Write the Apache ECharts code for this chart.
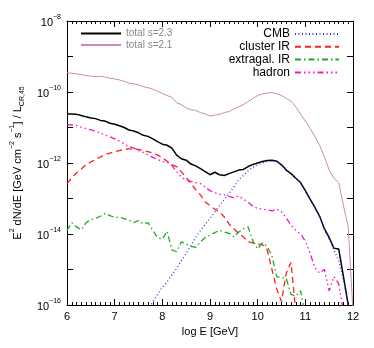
<!DOCTYPE html>
<html>
<head>
<meta charset="utf-8">
<script src="https://cdn.jsdelivr.net/npm/echarts@6/dist/echarts.min.js"></script>
<style>
  html, body { margin: 0; padding: 0; background: #fff; }
  #chart { width: 374px; height: 348px; }
</style>
</head>
<body>
<div id="chart"></div>
<script>
// log E grid (GeV), 0.1 steps
var logE = [6.0, 6.1, 6.2, 6.3, 6.4, 6.5, 6.6, 6.7, 6.8, 6.9,
            7.0, 7.1, 7.2, 7.3, 7.4, 7.5, 7.6, 7.7, 7.8, 7.9,
            8.0, 8.1, 8.2, 8.3, 8.4, 8.5, 8.6, 8.7, 8.8, 8.9,
            9.0, 9.1, 9.2, 9.3, 9.4, 9.5, 9.6, 9.7, 9.8, 9.9,
            10.0, 10.1, 10.2, 10.3, 10.4, 10.5, 10.6, 10.7, 10.8, 10.9,
            11.0, 11.1, 11.2, 11.3, 11.4, 11.5, 11.6, 11.7, 11.8, 11.9,
            12.0];

// log10 of E^2 dN/dE / L_CR,45 (null = not drawn)
var total23 = [-10.62, -10.62, -10.63, -10.66, -10.70, -10.73, -10.75, -10.80, -10.82, -10.88,
               -10.91, -10.95, -11.00, -11.07, -11.10, -11.15, -11.22, -11.25, -11.32, -11.40,
               -11.47, -11.50, -11.58, -11.78, -11.88, -11.92, -12.03, -12.08, -12.16, -12.24,
               -12.33, -12.26, -12.33, -12.35, -12.30, -12.25, -12.20, -12.18, -12.10, -12.04,
               -12.00, -11.96, -11.93, -11.92, -11.95, -12.05, -12.20, -12.30, -12.43, -12.55,
               -12.78, -13.02, -13.25, -13.50, -13.85, -14.10, -14.40, -14.42, -15.20, -16.0,
               null];
var total21 = [-9.46, -9.47, -9.49, -9.51, -9.54, -9.55, -9.57, -9.56, -9.58, -9.61,
               -9.63, -9.66, -9.70, -9.75, -9.77, -9.80, -9.85, -9.88, -9.92, -9.98,
               -10.04, -10.10, -10.15, -10.30, -10.36, -10.45, -10.50, -10.52, -10.58, -10.62,
               -10.68, -10.65, -10.63, -10.58, -10.55, -10.48, -10.41, -10.36, -10.27, -10.18,
               -10.10, -10.05, -10.03, -10.02, -10.05, -10.10, -10.18, -10.26, -10.42, -10.62,
               -10.82, -11.02, -11.25, -11.50, -11.82, -12.20, -12.43, -12.55, -13.20, -13.80,
               -16.2];
var cmb = [null, null, null, null, null, null, null, null, null, null,
           null, null, null, null, null, null, null, -16.15, -15.9, -15.7,
           -15.5, -15.35, -15.15, -14.97, -14.75, -14.55, -14.32, -14.10, -13.90, -13.72,
           -13.56, -13.38, -13.20, -13.03, -12.85, -12.68, -12.48, -12.35, -12.22, -12.12,
           -12.05, -12.00, -11.96, -11.94, -11.96, -12.06, -12.21, -12.31, -12.44, -12.56,
           -12.79, -13.03, -13.26, -13.52, -13.87, -14.15, -14.45, -14.75, -15.30, -16.0,
           null];
var clusterIR = [-12.58, -12.42, -12.28, -12.17, -12.05, -11.97, -11.90, -11.83, -11.76, -11.72,
                 -11.68, -11.65, -11.62, -11.60, -11.60, -11.62, -11.65, -11.68, -11.72, -11.78,
                 -11.85, -11.95, -12.05, -12.10, -12.25, -12.40, -12.58, -12.75, -12.90, -13.10,
                 -13.20, -13.30, -13.38, -13.52, -13.72, -13.85, -13.98, -14.08, -14.22, -14.25,
                 -14.28, -14.30, -14.45, -15.00, -15.55, -15.90, -15.10, -14.80, -16.2, null,
                 null, null, null, null, null, null, null, null, null, null,
                 null];
var extragalIR = [-13.90, -13.68, -13.80, -13.88, -13.68, -13.60, -13.56, -13.50, -13.42, -13.48,
                  -13.53, -13.53, -13.57, -13.61, -13.68, -13.62, -13.72, -13.68, -13.90, -14.10,
                  -14.15, -13.92, -14.45, -14.50, -14.22, -14.28, -14.35, -14.38, -14.22, -14.10,
                  -14.03, -13.96, -13.90, -13.94, -13.98, -14.08, -13.95, -13.85, -13.80, -14.20,
                  -14.42, -14.25, -14.35, -14.62, -15.20, -15.22, -15.25, -15.70, -15.75, -15.60,
                  -16.3, null, null, null, null, null, null, null, null, null,
                  null];
var hadron = [-10.92, -10.93, -10.95, -10.99, -11.03, -11.07, -11.10, -11.15, -11.22, -11.26,
              -11.32, -11.38, -11.46, -11.54, -11.58, -11.65, -11.70, -11.77, -11.84, -11.90,
              -11.96, -11.98, -12.06, -12.25, -12.40, -12.48, -12.52, -12.55, -12.58, -12.68,
              -12.78, -12.84, -12.88, -12.90, -12.94, -12.98, -12.93, -13.02, -13.10, -13.22,
              -13.28, -13.30, -13.32, -13.35, -13.30, -13.37, -13.55, -13.75, -13.90, -14.00,
              -14.20, -14.54, -14.95, -15.10, -15.00, -15.60, -15.20, -15.40, -16.2, null,
              null];

var FONT = '"Liberation Sans", Arial, sans-serif';

function pairs(vals) {
    var out = [];
    for (var i = 0; i < logE.length; i++) {
        out.push([logE[i], vals[i] == null ? null : vals[i]]);
    }
    return out;
}

function lineSeries(name, vals, color, width, dash) {
    return {
        name: name,
        type: 'line',
        data: pairs(vals),
        symbol: 'none',
        showSymbol: false,
        clip: true,
        animation: false,
        lineStyle: { color: color, width: width, type: dash },
        itemStyle: { color: color }
    };
}

var chart = echarts.init(document.getElementById('chart'));

var supRich = {
    b: { fontSize: 11, fontFamily: FONT, color: '#000', lineHeight: 14, verticalAlign: 'bottom' },
    s: { fontSize: 7, fontFamily: FONT, color: '#000', lineHeight: 9, verticalAlign: 'top' }
};

var option = {
    backgroundColor: '#fff',
    textStyle: { fontFamily: FONT },
    grid: { left: 67, right: 21, top: 21, bottom: 43 },
    legend: [{
        data: ['total s=2.3', 'total s=2.1'],
        orient: 'vertical',
        left: 80,
        top: 28,
        padding: 0,
        itemWidth: 40,
        itemHeight: 8,
        itemGap: 0.5,
        itemStyle: { opacity: 0 },
        textStyle: { color: '#888', fontSize: 10, fontFamily: FONT, lineHeight: 11 }
    }, {
        data: ['CMB', 'cluster IR', 'extragal. IR', 'hadron'],
        orient: 'vertical',
        align: 'right',
        right: 34,
        top: 28,
        padding: 0,
        itemWidth: 44,
        itemHeight: 8,
        itemGap: 0.8,
        itemStyle: { opacity: 0 },
        textStyle: { color: '#000', fontSize: 12, fontFamily: FONT, lineHeight: 11 }
    }],
    xAxis: [{
        type: 'value',
        min: 6,
        max: 12,
        interval: 1,
        name: 'log E [GeV]',
        nameLocation: 'middle',
        nameGap: 21,
        nameTextStyle: { fontSize: 11, color: '#000', fontFamily: FONT },
        axisLine: { lineStyle: { color: '#000', width: 1 } },
        axisTick: { inside: true, length: 6, lineStyle: { color: '#000' } },
        minorTick: { show: true, splitNumber: 10, length: 3, lineStyle: { color: '#000' } },
        axisLabel: { fontSize: 11, color: '#000', margin: 6 },
        splitLine: { show: false }
    }, {
        type: 'value',
        position: 'top',
        min: 6,
        max: 12,
        interval: 1,
        axisLine: { lineStyle: { color: '#000', width: 1 } },
        axisTick: { inside: true, length: 6, lineStyle: { color: '#000' } },
        minorTick: { show: true, splitNumber: 10, length: 3, lineStyle: { color: '#000' } },
        axisLabel: { show: false },
        splitLine: { show: false }
    }],
    yAxis: [{
        type: 'value',
        min: -16,
        max: -8,
        interval: 1,
        name: '{n|E}{s|2}{n| dN/dE [GeV cm}{s|−2}{n| s}{s|−1}{n|] / L}{d|CR,45}',
        nameLocation: 'middle',
        nameRotate: 90,
        nameGap: 40,
        nameTextStyle: {
            rich: {
                n: { fontSize: 11, fontFamily: FONT, color: '#000', lineHeight: 14, verticalAlign: 'middle' },
                s: { fontSize: 7, fontFamily: FONT, color: '#000', lineHeight: 14, verticalAlign: 'top', padding: [-2, 0, 0, 0] },
                d: { fontSize: 7, fontFamily: FONT, color: '#000', lineHeight: 14, verticalAlign: 'bottom', padding: [0, 0, -1, 0] }
            }
        },
        axisLine: { lineStyle: { color: '#000', width: 1 } },
        axisTick: { inside: true, length: 6, lineStyle: { color: '#000' } },
        axisLabel: {
            margin: 6,
            formatter: function (v) {
                if (Math.round(v) % 2 !== 0) return '';
                return '{b|10}{s|' + String(v).replace('-', '−') + '}';
            },
            rich: supRich
        },
        splitLine: { show: false }
    }, {
        type: 'value',
        position: 'right',
        min: -16,
        max: -8,
        interval: 1,
        axisLine: { lineStyle: { color: '#000', width: 1 } },
        axisTick: { inside: true, length: 6, lineStyle: { color: '#000' } },
        axisLabel: { show: false },
        splitLine: { show: false }
    }],
    series: [
        lineSeries('total s=2.3', total23, '#000000', 1.5, 'solid'),
        lineSeries('total s=2.1', total21, '#cc88bb', 1, 'solid'),
        lineSeries('CMB', cmb, '#3333ee', 1.3, [1, 2.5]),
        lineSeries('cluster IR', clusterIR, '#ff2020', 1.3, [6, 4]),
        lineSeries('extragal. IR', extragalIR, '#22aa22', 1.3, [6, 3, 1.5, 3]),
        lineSeries('hadron', hadron, '#ff10c0', 1.3, [6, 3, 1.5, 3, 1.5, 3, 1.5, 3])
    ]
};

chart.setOption(option);
</script>
</body>
</html>
